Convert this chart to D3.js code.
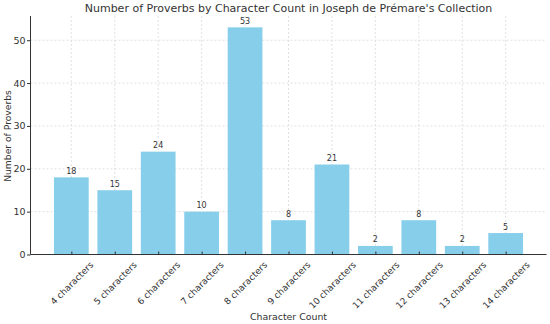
<!DOCTYPE html>
<html>
<head>
<meta charset="utf-8">
<script src="https://cdn.jsdelivr.net/npm/d3@7"></script>
<style>
  body { margin: 0; background: #fff; }
  svg { font-family: "DejaVu Sans", sans-serif; }
  .grid line { stroke: #d9d9d9; stroke-dasharray: 2,2; stroke-width: 0.8; }
</style>
</head>
<body>
<svg width="550" height="324"></svg>
<script>
// data
var categories = ["4 characters", "5 characters", "6 characters", "7 characters", "8 characters",
  "9 characters", "10 characters", "11 characters", "12 characters", "13 characters", "14 characters"];
var counts = [18, 15, 24, 10, 53, 8, 21, 2, 8, 2, 5];
var yTicks = [0, 10, 20, 30, 40, 50];

var svg = d3.select("svg");
var mLeft = 30.5, mRight = 546.5, mTop = 16, mBottom = 254.5;
var n = categories.length;

// matplotlib-like linear x over category index
var x = d3.scaleLinear().domain([-0.94, n - 1 + 0.94]).range([mLeft, mRight]);
var y = d3.scaleLinear().domain([0, d3.max(counts) * 1.05]).range([mBottom, mTop]);
var bw = x(0.4) - x(-0.4);

// grid
var grid = svg.append("g").attr("class", "grid");
grid.selectAll("line.h").data(yTicks).enter().append("line")
  .attr("x1", mLeft).attr("x2", mRight)
  .attr("y1", function(d) { return y(d); }).attr("y2", function(d) { return y(d); });
grid.selectAll("line.v").data(categories).enter().append("line")
  .attr("x1", function(d, i) { return x(i); }).attr("x2", function(d, i) { return x(i); })
  .attr("y1", mTop).attr("y2", mBottom);

// bars
svg.append("g").selectAll("rect").data(counts).enter().append("rect")
  .attr("x", function(d, i) { return x(i) - bw / 2; })
  .attr("width", bw)
  .attr("y", function(d) { return y(d); })
  .attr("height", function(d) { return mBottom - y(d); })
  .attr("fill", "#87CEEB");

// value labels
svg.append("g").selectAll("text").data(counts).enter().append("text")
  .attr("x", function(d, i) { return x(i); })
  .attr("y", function(d) { return y(d) - 3.5; })
  .attr("text-anchor", "middle")
  .attr("font-size", 8)
  .attr("fill", "#333")
  .text(function(d) { return d; });

// axes
var yAxis = svg.append("g").attr("transform", "translate(" + mLeft + ",0)")
  .call(d3.axisLeft(y).tickValues(yTicks).tickSize(3.5).tickPadding(1.5));
var xAxis = svg.append("g").attr("transform", "translate(0," + mBottom + ")")
  .call(d3.axisBottom(x).tickValues(d3.range(n)).tickSize(-3).tickPadding(3)
    .tickFormat(function(i) { return categories[i]; }));

yAxis.select(".domain").attr("d", "M0," + mTop + "V" + mBottom);
xAxis.select(".domain").attr("d", "M" + mLeft + ",0H" + mRight);
[yAxis, xAxis].forEach(function(a) {
  a.select(".domain").attr("stroke", "#333").attr("stroke-width", 1);
  a.selectAll(".tick line").attr("stroke", "#333");
  a.selectAll("text").attr("fill", "#333").attr("font-family", "DejaVu Sans");
});
yAxis.selectAll("text").attr("font-size", 9.5);
xAxis.selectAll("text").attr("font-size", 9);

// rotated labels, centred on the tick like matplotlib's rotation=45
xAxis.selectAll(".tick text").each(function() {
  var t = d3.select(this);
  var L = this.getComputedTextLength();
  var h = 9;
  var half = (L * Math.SQRT1_2 + h * Math.SQRT1_2) / 2;
  t.attr("text-anchor", "middle").attr("x", 0).attr("y", 0).attr("dy", "0.35em")
    .attr("transform", "translate(0," + (5.5 + half) + ") rotate(-45)");
});

// titles
svg.append("text").attr("x", (mLeft + mRight) / 2).attr("y", 12)
  .attr("text-anchor", "middle").attr("font-size", 11).attr("fill", "#333")
  .text("Number of Proverbs by Character Count in Joseph de Prémare's Collection");
svg.append("text").attr("x", (mLeft + mRight) / 2).attr("y", 320)
  .attr("text-anchor", "middle").attr("font-size", 9.4).attr("fill", "#333")
  .text("Character Count");
svg.append("text").attr("transform", "translate(10.5,136) rotate(-90)")
  .attr("text-anchor", "middle").attr("font-size", 9.2).attr("fill", "#333")
  .text("Number of Proverbs");
</script>
</body>
</html>
